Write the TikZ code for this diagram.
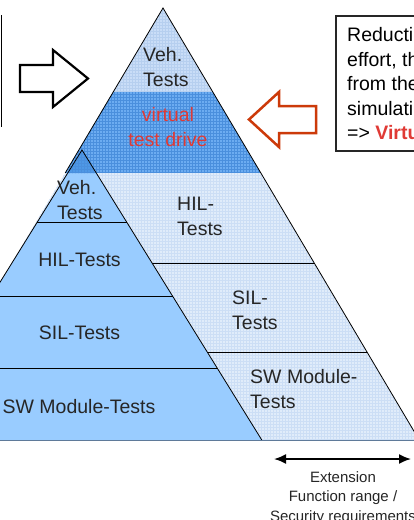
\documentclass[tikz,border=0pt]{standalone}
\usepackage{fontspec}
\setmainfont{Liberation Sans}
\usepackage{tikz}
\usetikzlibrary{patterns, arrows.meta}
\definecolor{vehfill}{HTML}{C9DDF7}
\definecolor{vehgrid}{HTML}{B6CFEF}
\definecolor{virtfill}{HTML}{6CACF1}
\definecolor{virtgrid}{HTML}{4A8FDD}
\definecolor{virtedge}{HTML}{2E5FA0}
\definecolor{restfill}{HTML}{E0ECFA}
\definecolor{restgrid}{HTML}{CCDEF5}
\definecolor{smallfill}{HTML}{99CCFF}
\definecolor{tipfill}{HTML}{4E98E6}
\definecolor{virtred}{HTML}{E03A35}
\definecolor{arroworange}{HTML}{CC3A0A}
\definecolor{basegrey}{HTML}{5F7A99}
\definecolor{labeltext}{HTML}{262626}

\begin{document}
\begin{tikzpicture}[x=1pt, y=-1pt,
    layerlbl/.style={font=\fontsize{19.5}{25}\selectfont, text=labeltext, inner sep=0pt, align=left},
    steplbl/.style={font=\fontsize{19.5}{25}\selectfont, text=labeltext, inner sep=0pt, align=center}]
    % Picture frame (pixel coordinates)
    \useasboundingbox (0,0) rectangle (414,520);
    \clip (0,0) rectangle (414,520);
    \fill[white] (0,0) rectangle (414,520);

    % Big pyramid: vehicle tests on top
    \fill[vehfill, postaction={pattern=grid, pattern color=vehgrid}] (163,8) -- (212.8,92) -- (113.2,92) -- cycle;
    % Big pyramid: virtual test drive band
    \fill[virtfill, postaction={pattern=grid, pattern color=virtgrid}] (113.2,92) -- (212.8,92) -- (260.8,173) -- (65.2,173) -- cycle;
    \draw[virtedge, line width=0.8pt] (65.2,173) -- (260.8,173);
    % Big pyramid: lower part
    \fill[restfill, postaction={pattern=grid, pattern color=restgrid}] (65.2,173) -- (260.8,173) -- (419.2,440) -- (-93.2,440) -- cycle;
    % Big pyramid: outline and layer lines
    \draw[black, line width=0.8pt] (65.2,173) -- (163,8) -- (419.2,440);
    \draw[black, line width=0.8pt] (152.1,263) -- (314.2,263);
    \draw[black, line width=0.8pt] (207.2,352) -- (367,352);

    % Small pyramid in front
    \fill[smallfill] (82,150) -- (261.8,440) -- (-97.8,440) -- cycle;
    % Small pyramid: tip inside the virtual band
    \fill[tipfill, postaction={pattern=grid, pattern color=virtgrid}] (82,150) -- (96.3,173) -- (67.7,173) -- cycle;
    % Small pyramid: outline and layer lines
    \draw[black, line width=0.8pt] (-97.8,440) -- (82,150) -- (261.8,440);
    \draw[black, line width=0.8pt] (37.4,222) -- (126.6,222);
    \draw[black, line width=0.8pt] (-8.5,296) -- (172.5,296);
    \draw[black, line width=0.8pt] (-53.2,368) -- (217.2,368);
    % Base line
    \draw[basegrey, line width=1.4pt] (0,440.5) -- (414,440.5);

    % Labels of the big pyramid
    \node[layerlbl, anchor=west] (vehbig) at (143,67) {Veh.\\Tests};
    \node[steplbl, text=virtred] (vtd) at (168,127) {virtual\\test drive};
    \node[layerlbl, anchor=west] (hilbig) at (177,216) {HIL-\\Tests};
    \node[layerlbl, anchor=west] (silbig) at (232,310) {SIL-\\Tests};
    \node[layerlbl, anchor=west] (swbig) at (250,389) {SW Module-\\Tests};

    % Labels of the small pyramid
    \node[layerlbl, anchor=west] (vehsmall) at (57,200) {Veh.\\Tests};
    \node[steplbl] (hilsmall) at (79.5,260) {HIL-Tests};
    \node[steplbl] (silsmall) at (79.5,333) {SIL-Tests};
    \node[steplbl] (swsmall) at (79,407) {SW Module-Tests};

    % Box edge on the left
    \draw[black, line width=1.5pt] (1.5,15) -- (1.5,127);
    % Outline arrow to the right
    \draw[black, line width=2.2pt, line join=miter] (20,65) -- (53,65) -- (53,50) -- (88,78.5) -- (53,107) -- (53,92) -- (20,92) -- cycle;

    % Text box on the right
    \draw[black!85, line width=1.3pt] (336,16) rectangle (440,151);
    \node[layerlbl, text=black, font=\fontsize{19.5}{24.5}\selectfont, anchor=west] (reduct) at (347,84)
        {Reducti\\effort, th\\from the\\simulati\\=> {\color{virtred}\bfseries Virtu}};
    % Outline arrow to the left
    \draw[arroworange, line width=2.5pt, line join=miter] (249,119.5) -- (279,92) -- (279,106) -- (316,106) -- (316,133) -- (279,133) -- (279,147) -- cycle;

    % Extension arrow below
    \coordinate (extL) at (274,459);
    \coordinate (extR) at (411,459);
    \draw[black, line width=1.8pt, {Latex[length=12pt,width=10pt]}-{Latex[length=12pt,width=10pt]}] (extL) -- (extR);
    \node[steplbl, font=\fontsize{15}{19.5}\selectfont, anchor=north] (extlbl) at (343,471)
        {Extension\\Function range /\\Security requirements};
\end{tikzpicture}
\end{document}
